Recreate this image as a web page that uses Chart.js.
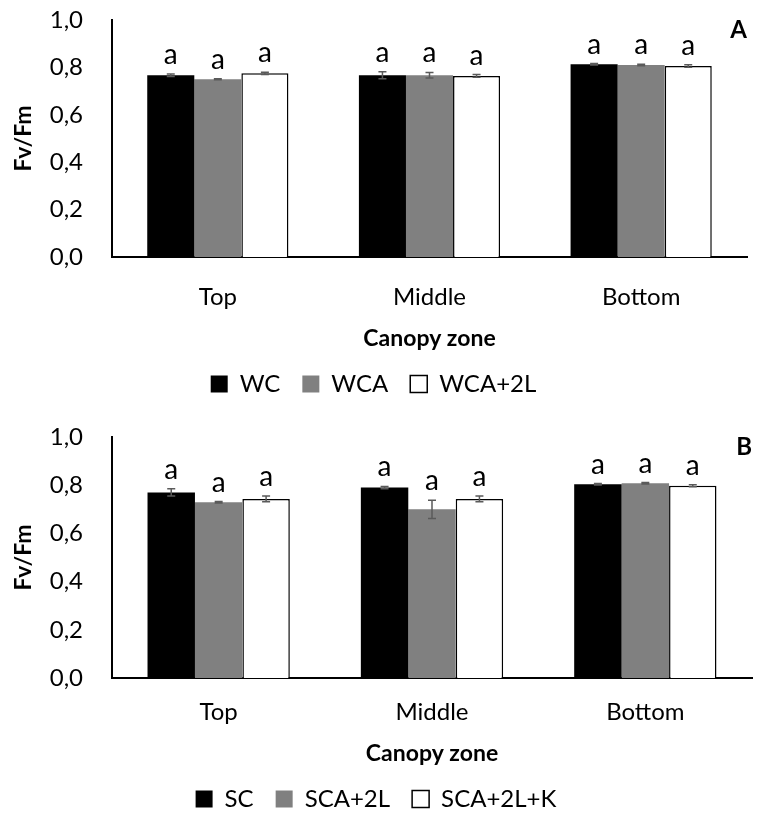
<!DOCTYPE html>
<html>
<head>
<meta charset="utf-8">
<script src="https://cdn.jsdelivr.net/npm/chart.js@4/dist/chart.umd.min.js"></script>
<style>
  body { margin: 0; background: #fff; overflow: hidden; }
  .panel { position: absolute; left: 0; }
</style>
</head>
<body>
<div class="panel" style="top:0"><canvas id="chartA" width="757" height="410"></canvas></div>
<div class="panel" style="top:404px"><canvas id="chartB" width="757" height="420"></canvas></div>
<script>
const categories = ['Top', 'Middle', 'Bottom'];
const yTickLabels = ['0,0', '0,2', '0,4', '0,6', '0,8', '1,0'];

// panel A
const seriesA = ['WC', 'WCA', 'WCA+2L'];
const wcValues = [0.767, 0.767, 0.813];
const wcErrors = [0.005, 0.015, 0.003];
const wcaValues = [0.750, 0.767, 0.810];
const wcaErrors = [0.002, 0.012, 0.003];
const wca2lValues = [0.775, 0.764, 0.806];
const wca2lErrors = [0.005, 0.006, 0.005];
const lettersA = [['a', 'a', 'a'], ['a', 'a', 'a'], ['a', 'a', 'a']];

// panel B
const seriesB = ['SC', 'SCA+2L', 'SCA+2L+K'];
const scValues = [0.770, 0.790, 0.804];
const scErrors = [0.015, 0.005, 0.003];
const sca2lValues = [0.729, 0.700, 0.808];
const sca2lErrors = [0.003, 0.038, 0.003];
const sca2lkValues = [0.743, 0.743, 0.798];
const sca2lkErrors = [0.012, 0.012, 0.004];
const lettersB = [['a', 'a', 'a'], ['a', 'a', 'a'], ['a', 'a', 'a']];

const FONT = 'Lato, "Open Sans", sans-serif';
const fills = ['#000000', '#808080', '#ffffff'];
const borders = ['#000000', '#6e6e6e', '#000000'];

// error bars + significance letters + panel tag
const annotate = {
  id: 'annotate',
  afterDatasetsDraw(chart, args, opts) {
    const ctx = chart.ctx;
    const y = chart.scales.y;
    ctx.save();
    chart.data.datasets.forEach((ds, di) => {
      chart.getDatasetMeta(di).data.forEach((bar, i) => {
        const v = ds.data[i], e = ds.errors[i];
        const yHi = y.getPixelForValue(v + e);
        const yLo = y.getPixelForValue(v - e);
        ctx.strokeStyle = '#5a5a5a';
        ctx.lineWidth = 1.5;
        ctx.beginPath();
        ctx.moveTo(bar.x, yHi); ctx.lineTo(bar.x, yLo);
        ctx.moveTo(bar.x - 4, yHi); ctx.lineTo(bar.x + 4, yHi);
        ctx.moveTo(bar.x - 4, yLo); ctx.lineTo(bar.x + 4, yLo);
        ctx.stroke();
        ctx.fillStyle = '#000';
        ctx.font = '28px ' + FONT;
        ctx.textAlign = 'center';
        ctx.textBaseline = 'alphabetic';
        ctx.fillText(opts.letters[di][i], bar.x, yHi - 10);
      });
    });
    const area = chart.chartArea;
    ctx.font = 'bold 24px ' + FONT;
    ctx.textAlign = 'right';
    ctx.textBaseline = 'middle';
    ctx.fillText(opts.tag, area.right, area.top + 10);
    ctx.restore();
  }
};

function makeChart(id, names, values, errors, letters, tag, pad, xHeight, xTickPad) {
  return new Chart(document.getElementById(id), {
    type: 'bar',
    data: {
      labels: categories,
      datasets: names.map((n, k) => ({
        label: n,
        data: values[k],
        errors: errors[k],
        backgroundColor: fills[k],
        borderColor: borders[k],
        borderWidth: k === 2 ? 1.5 : 0,
        categoryPercentage: 0.667,
        barPercentage: 1.0
      }))
    },
    options: {
      responsive: false,
      animation: false,
      layout: { padding: pad },
      scales: {
        x: {
          afterFit(scale) { scale.height = xHeight; },
          grid: { display: false, drawTicks: false },
          border: { display: true, color: '#000', width: 2 },
          ticks: { color: '#000', padding: xTickPad, maxRotation: 0, font: { family: FONT, size: 24 } },
          title: {
            display: true, text: 'Canopy zone', color: '#000',
            font: { family: FONT, size: 23, weight: 'bold' },
            padding: { top: 4, bottom: -2 }
          }
        },
        y: {
          min: 0, max: 1,
          afterFit(scale) {
            scale.width = 112;
            scale.paddingTop = 14;
            scale.paddingBottom = 14;
          },
          afterBuildTicks(scale) {
            scale.ticks = yTickLabels.map((t, i) => ({ value: i * 0.2 }));
          },
          grid: { display: false, drawTicks: false },
          border: { display: true, color: '#000', width: 2 },
          ticks: {
            color: '#000', padding: 29, font: { family: FONT, size: 24 },
            callback: (v, i) => yTickLabels[i]
          },
          title: {
            display: true, text: 'Fv/Fm', color: '#000',
            font: { family: FONT, size: 23, weight: 'bold' },
            padding: { top: 10, bottom: 0 }
          }
        }
      },
      plugins: {
        legend: {
          position: 'bottom',
          labels: {
            color: '#000', boxWidth: 17, boxHeight: 17, padding: 22,
            font: { family: FONT, size: 24 }
          }
        },
        tooltip: { enabled: false },
        annotate: { letters: letters, tag: tag }
      }
    },
    plugins: [annotate]
  });
}

makeChart('chartA', seriesA,
  [wcValues, wcaValues, wca2lValues],
  [wcErrors, wcaErrors, wca2lErrors],
  lettersA, 'A', { top: 20, right: 10, left: 0, bottom: 4 }, 93, 26);

makeChart('chartB', seriesB,
  [scValues, sca2lValues, sca2lkValues],
  [scErrors, sca2lErrors, sca2lkErrors],
  lettersB, 'B', { top: 33, right: 5, left: 0, bottom: 3 }, 87, 20);
</script>
</body>
</html>
